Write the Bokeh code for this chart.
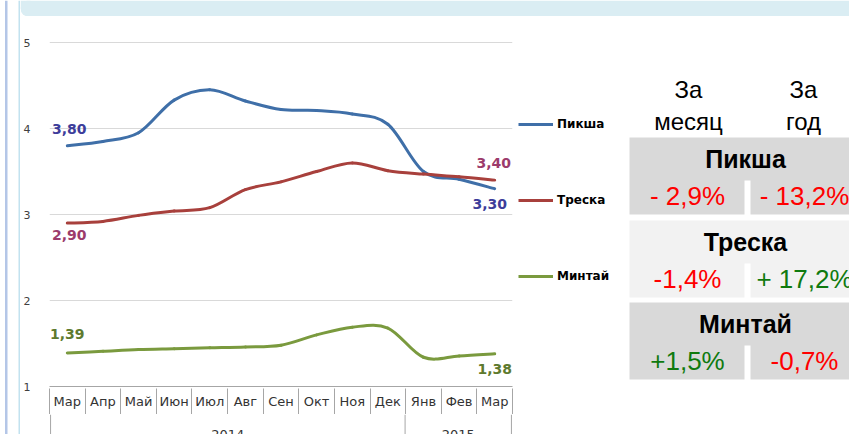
from bokeh.plotting import figure
from bokeh.layouts import row, column
from bokeh.models import (FixedTicker, LinearAxis, Range1d, Legend, LegendItem, ColumnDataSource)
from bokeh.core.properties import value
from bokeh.embed import file_html
from bokeh.resources import INLINE

# ---------------- data ----------------
months = ["Мар", "Апр", "Май", "Июн", "Июл", "Авг", "Сен", "Окт", "Ноя", "Дек", "Янв", "Фев", "Мар"]
years = ["2014", "2015"]
year_spans = [(0, 9), (10, 12)]          # first / last month index of each year
haddock = [3.80, 3.85, 3.95, 4.33, 4.45, 4.32, 4.22, 4.21, 4.17, 4.05, 3.50, 3.41, 3.30]   # Пикша
cod = [2.90, 2.92, 2.99, 3.04, 3.08, 3.29, 3.38, 3.50, 3.60, 3.51, 3.47, 3.44, 3.40]        # Треска
pollock = [1.39, 1.41, 1.43, 1.44, 1.45, 1.46, 1.48, 1.60, 1.69, 1.68, 1.34, 1.355, 1.38]   # Минтай
series_names = ["Пикша", "Треска", "Минтай"]
col_heads = [["За", "месяц"], ["За", "год"]]
table_month = ["- 2,9%", "-1,4%", "+1,5%"]
table_year = ["- 13,2%", "+ 17,2%", "-0,7%"]
month_up = [False, False, True]
year_up = [False, True, False]

# ---------------- styles ----------------
line_colors = ["#3f6fa8", "#a8403c", "#7a9a3e"]
label_colors = ["#3d3d9a", "#9c3b6b", "#5e7a2e"]
RED, GREEN = "#ff0000", "#0f7a0f"
AXIS_GRAY = "#a6a6a6"
TXT_GRAY = "#333333"
X0, X1, Y0, Y1 = -0.5, 12.5, 1.0, 5.012
BL, BR = 27, 1


def bare(w, h, xr, yr, bl=0, br=0):
    f = figure(width=w, height=h, output_backend="svg", toolbar_location=None,
               x_range=xr, y_range=yr, x_axis_location=None, y_axis_location=None)
    f.min_border_left, f.min_border_right = bl, br
    f.min_border_top = f.min_border_bottom = 0
    f.outline_line_color = None
    f.background_fill_color = "white"
    f.border_fill_color = "white"
    f.grid.grid_line_color = None
    return f

# ---------------- left strip ----------------
left = bare(20, 434, Range1d(0, 20), Range1d(434, 0))
left.quad(left=[4.5, 18], right=[7, 20], top=[0, 0], bottom=[434, 434],
          fill_color=["#b4c6e7", "#c2e2ef"], line_color=None)

# ---------------- banner ----------------
banner = bare(829, 16, Range1d(20, 849), Range1d(16, 0))
banner.quad(left=[28, 20], right=[849, 28], top=[0, 0], bottom=[16, 8],
            fill_color="#daedf3", line_color=None)
banner.circle(x=[28], y=[8], radius=8, fill_color="#daedf3", line_color=None)

# ---------------- chart ----------------
p = figure(width=493, height=398, output_backend="svg", toolbar_location=None,
           x_range=Range1d(X0, X1), y_range=Range1d(Y0, Y1),
           min_border_left=BL, min_border_right=BR, min_border_top=25, min_border_bottom=25)
p.outline_line_color = None
p.background_fill_color = "white"
p.border_fill_color = "white"

p.yaxis.ticker = FixedTicker(ticks=[1, 2, 3, 4, 5], minor_ticks=[])
p.yaxis.axis_line_color = None
p.yaxis.major_tick_out = 0
p.yaxis.major_tick_in = 0
p.yaxis.minor_tick_out = 0
p.yaxis.minor_tick_in = 0
p.yaxis.major_label_standoff = 19
p.yaxis.major_label_text_font = "DejaVu Sans"
p.yaxis.major_label_text_font_size = "11px"
p.yaxis.major_label_text_color = "#404040"
p.ygrid.ticker = FixedTicker(ticks=[2, 3, 4, 5])
p.ygrid.grid_line_color = "#d9d9d9"
p.xgrid.grid_line_color = None

bounds = [i - 0.5 for i in range(len(months) + 1)]
xa = p.xaxis[0]
xa.ticker = FixedTicker(ticks=list(range(len(months))), minor_ticks=[])
xa.major_label_overrides = {i: m for i, m in enumerate(months)}
xa.major_tick_out = 0
xa.major_tick_in = 0
xa.minor_tick_out = 0
xa.minor_tick_in = 0
xa.axis_line_color = AXIS_GRAY
xa.major_label_standoff = 7
xa.major_label_text_font = "DejaVu Sans"
xa.major_label_text_font_size = "13px"
xa.major_label_text_color = TXT_GRAY

sep = LinearAxis(ticker=FixedTicker(ticks=[], minor_ticks=bounds),
                 axis_line_color=None, major_tick_out=0, major_tick_in=0,
                 minor_tick_in=23, minor_tick_out=3, minor_tick_line_color=AXIS_GRAY,
                 major_label_standoff=0)
p.add_layout(sep, "below")

xs = list(range(len(months)))


def bezier_source(ys):
    n = len(ys)
    P = list(zip(xs, ys))
    d = dict(x0=[], y0=[], x1=[], y1=[], cx0=[], cy0=[], cx1=[], cy1=[])
    for i in range(n - 1):
        p0 = P[i - 1] if i > 0 else P[i]
        p1, p2 = P[i], P[i + 1]
        p3 = P[i + 2] if i + 2 < n else P[i + 1]
        d["x0"].append(p1[0]); d["y0"].append(p1[1])
        d["x1"].append(p2[0]); d["y1"].append(p2[1])
        d["cx0"].append(p1[0] + (p2[0] - p0[0]) / 6); d["cy0"].append(p1[1] + (p2[1] - p0[1]) / 6)
        d["cx1"].append(p2[0] - (p3[0] - p1[0]) / 6); d["cy1"].append(p2[1] - (p3[1] - p1[1]) / 6)
    return ColumnDataSource(d)


for ys, col in zip([haddock, cod, pollock], line_colors):
    p.bezier(x0="x0", y0="y0", x1="x1", y1="y1", cx0="cx0", cy0="cy0", cx1="cx1", cy1="cy1",
             source=bezier_source(ys), line_color=col, line_width=3, line_cap="round")

offsets = [((2, -17), (-5, 15)), ((2, 12), (-1, -17)), ((0, -19), (0, 15))]
for ys, col, (o_first, o_last) in zip([haddock, cod, pollock], label_colors, offsets):
    src = ColumnDataSource(dict(x=[xs[0], xs[-1]], y=[ys[0], ys[-1]],
                                t=[f"{ys[0]:.2f}".replace(".", ","), f"{ys[-1]:.2f}".replace(".", ",")],
                                xo=[o_first[0], o_last[0]], yo=[o_first[1], o_last[1]]))
    p.text(x="x", y="y", text="t", source=src, x_offset="xo", y_offset="yo",
           text_align="center", text_baseline="middle", text_color=col,
           text_font=value("DejaVu Sans"), text_font_style="bold", text_font_size="14px")

# ---------------- year row ----------------
EPS = 0.03
yr_row = bare(493, 20, Range1d(X0 - EPS, X1 + EPS), Range1d(0, 1), bl=BL, br=BR)
yr_bounds = [year_spans[0][0] - 0.5] + [b + 0.5 for a, b in year_spans]
yr_row.segment(x0=yr_bounds, y0=[0] * len(yr_bounds), x1=yr_bounds, y1=[1] * len(yr_bounds),
               line_color=AXIS_GRAY, line_width=1)
yr_row.text(x=[(a + b) / 2 for a, b in year_spans], y=[0.25] * len(years), text=years,
            text_align="center", text_baseline="top", text_color=TXT_GRAY,
            text_font=value("DejaVu Sans"), text_font_size="13px")

# ---------------- legend panel ----------------
NAN = float("nan")
leg = bare(107, 418, Range1d(0, 1), Range1d(0, 1))
leg_r = [leg.line(x=[NAN, NAN], y=[NAN, NAN], line_color=c, line_width=3) for c in line_colors]
legend = Legend(items=[LegendItem(label=n, renderers=[r]) for n, r in zip(series_names, leg_r)],
                location=(5, 148), padding=0, margin=0, spacing=56,
                glyph_width=35, glyph_height=20, label_height=20, label_standoff=4,
                label_text_font="DejaVu Sans", label_text_font_style="bold",
                label_text_font_size="12px", label_text_color="black",
                border_line_color=None, background_fill_alpha=0)
leg.add_layout(legend)

# ---------------- table ----------------
tab = bare(229, 418, Range1d(620, 849), Range1d(434, 16))
TF = value("Liberation Sans")
head_x = [688, 803]
for cx, (l1, l2) in zip(head_x, col_heads):
    tab.text(x=[cx, cx], y=[89, 121], text=[l1, l2], text_align="center", text_baseline="middle",
             text_font=TF, text_font_size="24px", text_color="black")

block_tops = [137, 220, 302]
block_fill = ["#d9d9d9", "#f2f2f2", "#d9d9d9"]
tab.quad(left=[629] * 3, right=[880] * 3, top=block_tops, bottom=[t + 77 for t in block_tops],
         fill_color=block_fill, line_color=None)
tab.quad(left=[744] * 3, right=[750] * 3, top=[t + 43 for t in block_tops],
         bottom=[t + 78 for t in block_tops], fill_color="white", line_color=None)
tab.text(x=[745] * 3, y=[t + 21 for t in block_tops], text=series_names, text_align="center",
         text_baseline="middle", text_font=TF, text_font_style="bold", text_font_size="25px",
         text_color="black")
tab.text(x=[687] * 3, y=[t + 58 for t in block_tops], text=table_month, text_align="center",
         text_baseline="middle", text_font=TF, text_font_size="26px",
         text_color=[GREEN if u else RED for u in month_up])
tab.text(x=[804] * 3, y=[t + 58 for t in block_tops], text=table_year, text_align="center",
         text_baseline="middle", text_font=TF, text_font_size="26px",
         text_color=[GREEN if u else RED for u in year_up])

layout = row(left, column(banner, row(column(p, yr_row), leg, tab)))
open("out.html", "w").write(file_html(layout, INLINE))
